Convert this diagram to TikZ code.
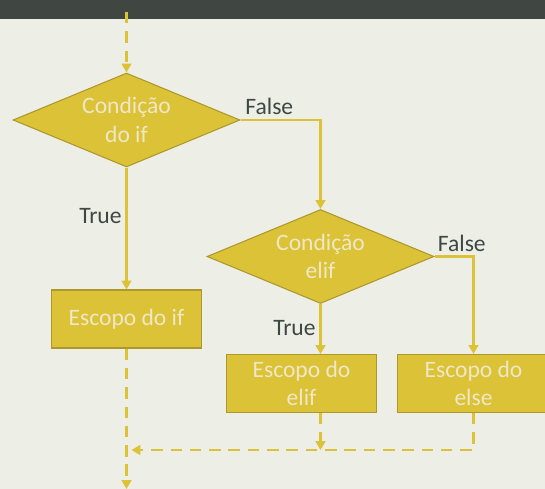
\documentclass[tikz,border=0pt]{standalone}
\usepackage{fontspec}
\setmainfont{Carlito}
\usepackage{tikz}
\usetikzlibrary{arrows.meta,shapes.geometric,positioning}
\definecolor{gold}{HTML}{DCC236}
\definecolor{gborder}{HTML}{AC982C}
\definecolor{pale}{HTML}{EEE8C8}
\definecolor{ink}{HTML}{3D4843}
\definecolor{paper}{HTML}{EDEEE6}
\definecolor{slate}{HTML}{404743}
\tikzstyle{decision} = [diamond, aspect=2.4, draw=gborder, line width=0.6pt, fill=gold, text=pale,
    minimum width=4.54cm, minimum height=1.88cm, inner sep=0pt, align=center]
\tikzstyle{block} = [rectangle, draw=gborder, line width=0.6pt, fill=gold, text=pale,
    minimum width=3cm, minimum height=1.16cm, align=center]
\tikzstyle{line} = [draw=gold, line width=1.6pt, -{Triangle[length=5pt,width=5.5pt]}]
\tikzstyle{dline} = [line, dash pattern=on 6.5pt off 4.5pt]
\tikzstyle{lbl} = [text=ink, inner sep=2pt]

\begin{document}
\begin{tikzpicture}[x=0.02cm, y=-0.02cm, font=\fontsize{13.4}{16.2}\selectfont]
        % Background
        \useasboundingbox (0,0) rectangle (545,489);
        \fill[paper] (0,0) rectangle (545,489);
        \fill[slate] (0,0) rectangle (545,19);
        % Place nodes
        \node [decision] (cif) at (126.5,120) {Condição\\do if};
        \node [block, below=2.44cm of cif] (sif) {Escopo do if};
        \node [decision] (celif) at (320.5,256.5) {Condição\\elif};
        \node [block, below=1cm of celif, xshift=-0.38cm] (selif) {Escopo do\\elif};
        \node [block, right=0.4cm of selif, minimum width=3.04cm] (selse) {Escopo do\\else};
        \coordinate (start) at (cif.north |- 0,12);
        \coordinate (mid) at (celif.south |- 0,450);
        \coordinate (join) at ([xshift=0.1cm]sif.south |- 0,450);
        \coordinate (end) at (sif.south |- 0,489);
        % Draw edges
        \path [dline] (start) -- (cif.north);
        \path [line] (cif.east) -| node [lbl, pos=0.18, above] {False} (celif.north);
        \path [line] (cif.south) -- node [lbl, pos=0.4, left] {True} (sif.north);
        \path [line] (celif.east) -| node [lbl, pos=0.35, above] {False} (selse.north);
        \path [line] (celif.south) -- node [lbl, pos=0.48, left] {True} (celif.south |- selif.north);
        \path [dline] (celif.south |- selif.south) -- (mid);
        \path [dline] (selse.south) |- (join);
        \path [dline] (sif.south) -- (end);
    \end{tikzpicture}
\end{document}
